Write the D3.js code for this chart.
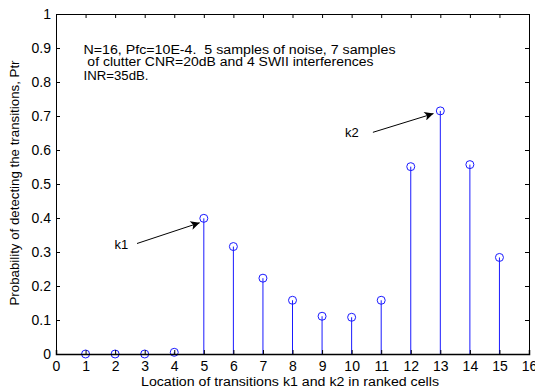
<!DOCTYPE html>
<html>
<head>
<meta charset="utf-8">
<script src="https://cdn.jsdelivr.net/npm/d3@7"></script>
<style>
  html, body { margin: 0; padding: 0; background: #fff; }
  svg { display: block; }
  text { font-family: "Liberation Sans", Arial, sans-serif; fill: #000; }
</style>
</head>
<body>
<svg id="chart" width="535" height="391"></svg>
<script>
// ---- data ----
const locations = [1, 2, 3, 4, 5, 6, 7, 8, 9, 10, 11, 12, 13, 14, 15];
const probabilities = [0, 0, 0, 0.005, 0.399, 0.316, 0.223, 0.158, 0.111, 0.108, 0.158, 0.551, 0.715, 0.557, 0.284];
const xTicks = d3.range(0, 17, 1);
const yTicks = [0, 0.1, 0.2, 0.3, 0.4, 0.5, 0.6, 0.7, 0.8, 0.9, 1];
const xTitle = "Location of transitions k1 and k2 in ranked cells";
const yTitle = "Probability of detecting the transitions, Ptr";
const noteLines = [
  "N=16, Pfc=10E-4.  5 samples of noise, 7 samples",
  " of clutter CNR=20dB and 4 SWII interferences",
  "INR=35dB."
];
// annotation positions in data units
const noteX = [0.93, 0.93, 0.93];
const noteY = [0.882, 0.848, 0.806];
const noteLen = [312, 290, 65];
const arrowLabels = ["k1", "k2"];
const labelPos = [[1.98, 0.308], [9.78, 0.639]];
const arrowFrom = [[2.74, 0.325], [10.72, 0.652]];
const arrowTo = [[4.86, 0.386], [12.77, 0.707]];

// ---- layout ----
const svg = d3.select("#chart");
const L = 56, R = 529, T = 14, B = 354;
const x = d3.scaleLinear().domain([0, 16]).range([L, R]);
const y = d3.scaleLinear().domain([0, 1]).range([B, T]);
const blue = "#1a1aff";

svg.append("defs").append("marker")
  .attr("id", "ah").attr("viewBox", "0 0 10 10")
  .attr("refX", 10).attr("refY", 5)
  .attr("markerWidth", 12).attr("markerHeight", 9)
  .attr("markerUnits", "userSpaceOnUse")
  .attr("orient", "auto")
  .append("path").attr("d", "M0,0 L10,5 L0,10 L2.5,5 Z").attr("fill", "#000");

// stems
svg.append("g").selectAll("line").data(locations).join("line")
  .attr("x1", d => x(d)).attr("x2", d => x(d))
  .attr("y1", y(0)).attr("y2", (d, i) => y(probabilities[i]))
  .attr("stroke", blue).attr("stroke-width", 1);

// markers
svg.append("g").selectAll("circle").data(locations).join("circle")
  .attr("cx", d => x(d)).attr("cy", (d, i) => y(probabilities[i]))
  .attr("r", 4).attr("fill", "none").attr("stroke", blue).attr("stroke-width", 1);

// axes (MATLAB style, ticks inward)
const tickLen = 4;
const fmtY = d => d === 0 ? "0" : d === 1 ? "1" : d3.format(".1f")(d);
const gB = svg.append("g").attr("transform", `translate(0,${B})`)
  .call(d3.axisBottom(x).tickValues(xTicks).tickSize(-tickLen).tickPadding(7).tickFormat(d3.format("d")));
const gT = svg.append("g").attr("transform", `translate(0,${T})`)
  .call(d3.axisTop(x).tickValues(xTicks).tickSize(-tickLen).tickFormat(""));
const gL = svg.append("g").attr("transform", `translate(${L},0)`)
  .call(d3.axisLeft(y).tickValues(yTicks).tickSize(-tickLen).tickPadding(5).tickFormat(fmtY));
const gR = svg.append("g").attr("transform", `translate(${R},0)`)
  .call(d3.axisRight(y).tickValues(yTicks).tickSize(-tickLen).tickFormat(""));
[gB, gT, gL, gR].forEach(g => {
  g.select(".domain").attr("stroke", "#000").attr("stroke-width", 1);
  g.selectAll(".tick line").attr("stroke", "#000");
  g.selectAll("text").attr("font-family", "Liberation Sans, Arial, sans-serif")
    .attr("font-size", 14).attr("fill", "#000");
});
gB.selectAll("text").attr("dy", "0.71em");
gB.select(".domain").attr("stroke-width", 1.5);

// axis titles
svg.append("text").attr("x", 290).attr("y", 386).attr("text-anchor", "middle")
  .attr("font-size", 12.5).attr("textLength", 298).attr("lengthAdjust", "spacingAndGlyphs")
  .text(xTitle);
svg.append("text").attr("transform", "translate(19,183) rotate(-90)").attr("text-anchor", "middle")
  .attr("font-size", 12.5).attr("textLength", 245).attr("lengthAdjust", "spacingAndGlyphs")
  .text(yTitle);

// note text
svg.append("g").selectAll("text").data(noteLines).join("text")
  .attr("x", (d, i) => x(noteX[i])).attr("y", (d, i) => y(noteY[i]))
  .attr("font-size", 12.5).attr("xml:space", "preserve").style("white-space", "pre")
  .attr("textLength", (d, i) => noteLen[i]).attr("lengthAdjust", "spacingAndGlyphs")
  .text(d => d);

// arrow annotations
svg.append("g").selectAll("line").data(arrowFrom).join("line")
  .attr("x1", d => x(d[0])).attr("y1", d => y(d[1]))
  .attr("x2", (d, i) => x(arrowTo[i][0])).attr("y2", (d, i) => y(arrowTo[i][1]))
  .attr("stroke", "#000").attr("stroke-width", 1).attr("marker-end", "url(#ah)");
svg.append("g").selectAll("text").data(arrowLabels).join("text")
  .attr("x", (d, i) => x(labelPos[i][0])).attr("y", (d, i) => y(labelPos[i][1]))
  .attr("font-size", 13).text(d => d);
</script>
</body>
</html>
